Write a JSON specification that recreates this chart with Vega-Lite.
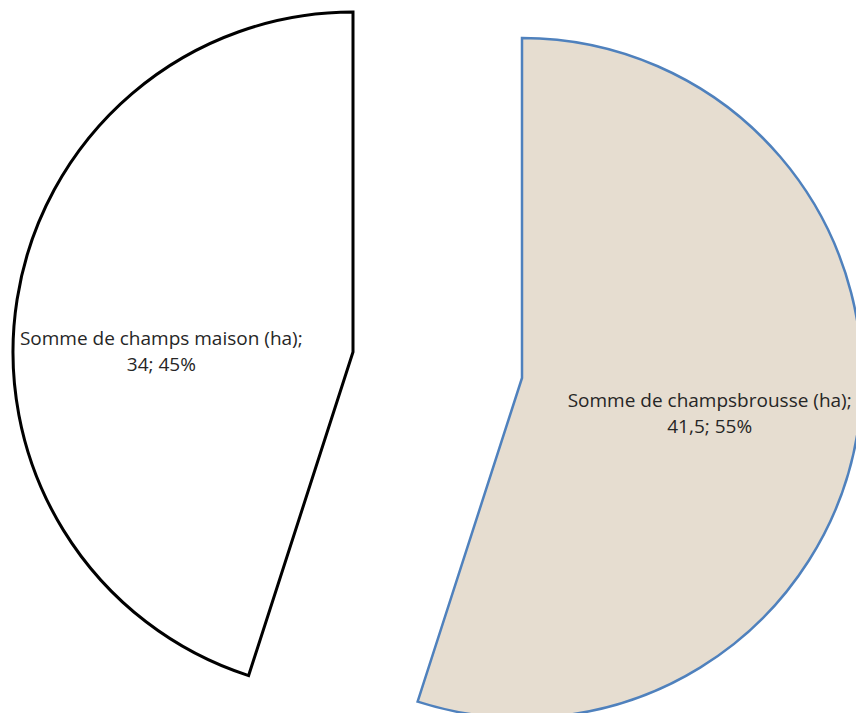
{
  "$schema": "https://vega.github.io/schema/vega-lite/v6.json",
  "width": 856,
  "height": 713,
  "padding": 0,
  "autosize": "none",
  "background": "white",
  "view": {"stroke": null},
  "data": {
    "values": [
      {"category": "Somme de champs maison (ha)", "value": 34},
      {"category": "Somme de champsbrousse (ha)", "value": 41.5}
    ]
  },
  "encoding": {
    "theta": {"field": "value", "type": "quantitative", "stack": true},
    "order": {"field": "category", "sort": "descending"}
  },
  "layer": [
    {
      "mark": {"type": "arc", "radius": 340, "fill": "#e6ddd0", "stroke": "#4f81bd", "strokeWidth": 2.5, "xOffset": 94, "yOffset": 21.5},
      "encoding": {
        "opacity": {"condition": {"test": "datum.value == 41.5", "value": 1}, "value": 0}
      }
    },
    {
      "mark": {"type": "arc", "radius": 340, "fill": "white", "stroke": "black", "strokeWidth": 3, "xOffset": -75, "yOffset": -4.5},
      "encoding": {
        "opacity": {"condition": {"test": "datum.value == 34", "value": 1}, "value": 0}
      }
    },
    {
      "mark": {"type": "text", "radius": 190, "font": "Open Sans", "fontSize": 19, "color": "#262626", "lineHeight": 26, "xOffset": 94, "yOffset": 15},
      "encoding": {
        "text": {"value": ["Somme de champsbrousse (ha);", "41,5; 55%"]},
        "opacity": {"condition": {"test": "datum.value == 41.5", "value": 1}, "value": 0}
      }
    },
    {
      "mark": {"type": "text", "radius": 190, "font": "Open Sans", "fontSize": 19, "color": "#262626", "lineHeight": 26, "xOffset": -79, "yOffset": 12},
      "encoding": {
        "text": {"value": ["Somme de champs maison (ha);", "34; 45%"]},
        "opacity": {"condition": {"test": "datum.value == 34", "value": 1}, "value": 0}
      }
    }
  ]
}
